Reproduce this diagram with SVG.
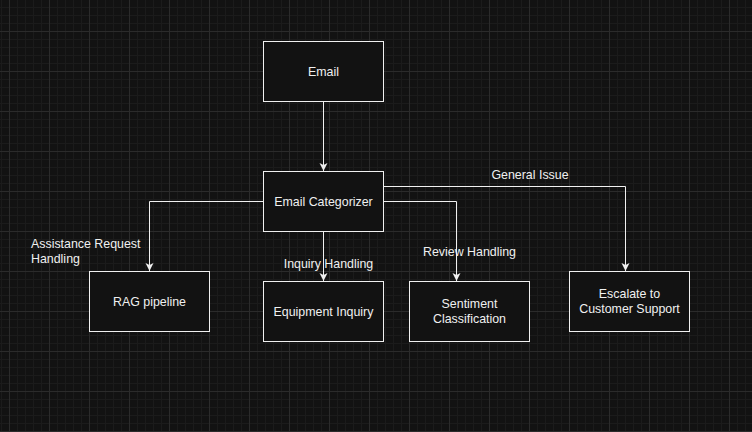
<svg xmlns="http://www.w3.org/2000/svg" width="752" height="432" viewBox="0 0 752 432">
<defs>
<pattern id="minor" width="8" height="8" patternUnits="userSpaceOnUse" x="9" y="-9">
<path d="M0 0.5H8M0.5 0V8" fill="none" stroke="#1b1b1b" stroke-width="1"/>
</pattern>
<pattern id="major" width="40" height="40" patternUnits="userSpaceOnUse" x="9" y="-9">
<path d="M0 0.5H40M0.5 0V40" fill="none" stroke="#2b2b2b" stroke-width="1"/>
</pattern>
<marker id="arr" markerWidth="10" markerHeight="10" refX="8" refY="4" orient="auto" markerUnits="userSpaceOnUse">
<path d="M0 0L8 4L0 8L2 4Z" fill="#f0f0f0"/>
</marker>
<style>
.node rect{fill:#121212;stroke:#f0f0f0;stroke-width:1}
text{font-family:"Liberation Sans",Arial,Helvetica,sans-serif;font-size:12.4px;fill:#f0f0f0}
.c{text-anchor:middle}
.edge{fill:none;stroke:#f0f0f0;stroke-width:1;marker-end:url(#arr)}
</style>
</defs>
<rect width="752" height="432" fill="#121212"/>
<rect width="752" height="432" fill="url(#minor)"/>
<rect width="752" height="432" fill="url(#major)"/>
<g id="connectors">
<path class="edge" d="M323.5 101.5V171"/>
<path class="edge" d="M263.5 201.5H149.5V271"/>
<path class="edge" d="M323.5 231.5V281"/>
<path class="edge" d="M383.5 201.5H456.5V281"/>
<path class="edge" d="M383.5 186.5H625.5V271"/>
<text x="31" y="248">Assistance Request</text>
<text x="31" y="263">Handling</text>
<text class="c" x="328.5" y="268">Inquiry Handling</text>
<text class="c" x="469.5" y="256">Review Handling</text>
<text class="c" x="530" y="179">General Issue</text>
</g>
<g id="email" class="node"><rect x="263.5" y="41.5" width="120" height="60"/><text class="c" x="323.5" y="75.5">Email</text></g>
<g id="categorizer" class="node"><rect x="263.5" y="171.5" width="120" height="60"/><text class="c" x="323.5" y="205.5">Email Categorizer</text></g>
<g id="rag" class="node"><rect x="89.5" y="271.5" width="120" height="60"/><text class="c" x="149.5" y="305.5">RAG pipeline</text></g>
<g id="equipment" class="node"><rect x="263.5" y="281.5" width="120" height="60"/><text class="c" x="323.5" y="315.5">Equipment Inquiry</text></g>
<g id="sentiment" class="node"><rect x="409.5" y="281.5" width="120" height="60"/><text class="c" x="469.5" y="308">Sentiment</text><text class="c" x="469.5" y="323">Classification</text></g>
<g id="escalate" class="node"><rect x="569.5" y="271.5" width="120" height="60"/><text class="c" x="629.5" y="298">Escalate to</text><text class="c" x="629.5" y="313">Customer Support</text></g>
</svg>
